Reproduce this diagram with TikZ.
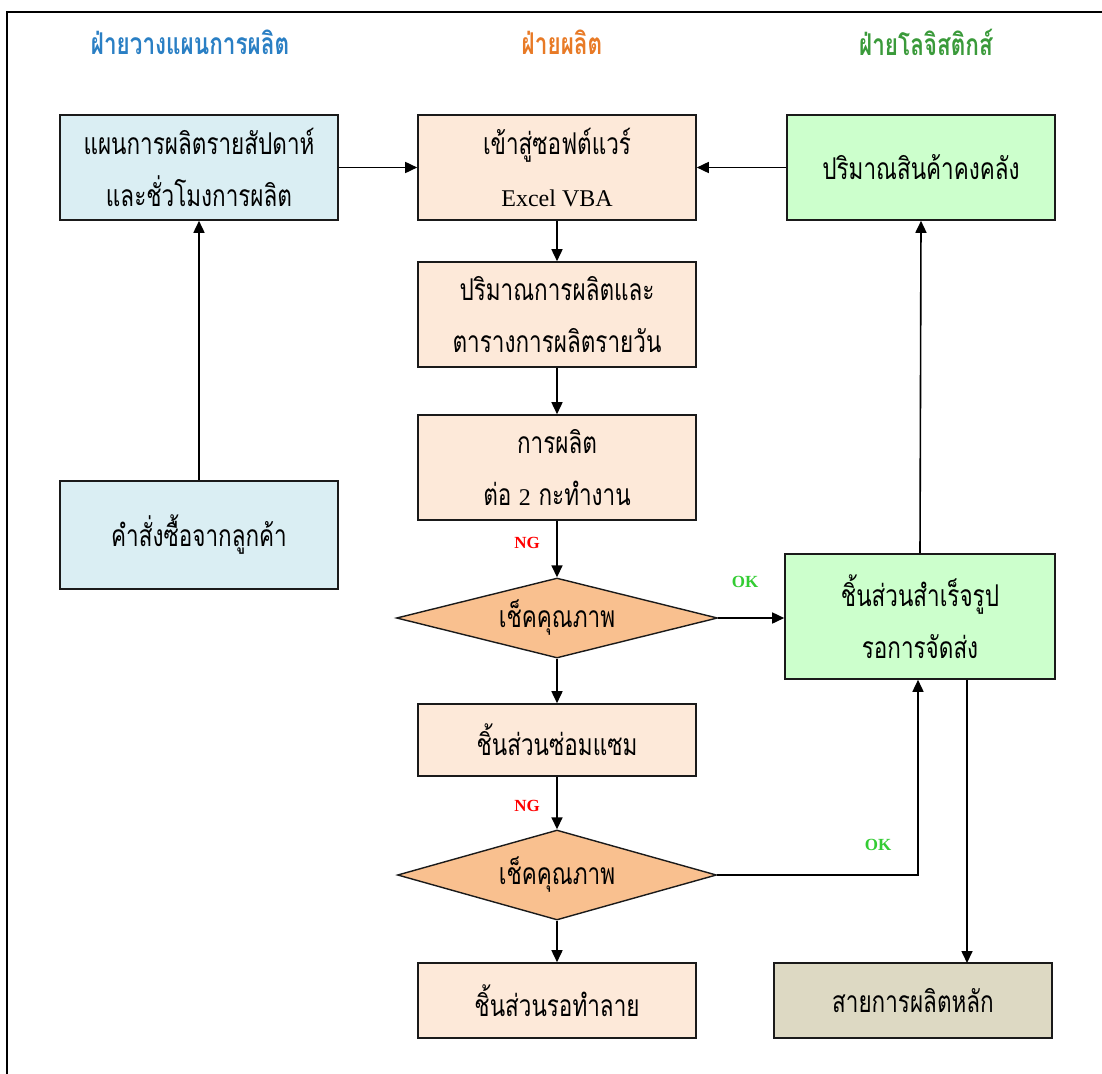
\documentclass[tikz,border=0pt]{standalone}
\usepackage{fontspec}
\usetikzlibrary{shapes.geometric,arrows.meta}
\newfontfamily\thai[Script=Thai,FakeStretch=0.75]{Loma}
\newfontfamily\lserif{Liberation Serif}
\definecolor{hdblue}{HTML}{2A7FC4}
\definecolor{hdorange}{HTML}{E87A26}
\definecolor{hdgreen}{HTML}{3A9A3A}
\definecolor{fblue}{HTML}{DAEEF3}
\definecolor{fpeach}{HTML}{FDE9D9}
\definecolor{fgreen}{HTML}{CCFFCC}
\definecolor{ftan}{HTML}{F9C08F}
\definecolor{fkhaki}{HTML}{DDD9C3}
\definecolor{okgreen}{HTML}{33CC33}
\definecolor{edge}{HTML}{1A1A1A}
\tikzset{
  box/.style={draw=edge, line width=1.6pt, minimum width=278pt, minimum height=105pt,
    inner sep=0pt, align=center, font=\thai\fontsize{30}{52}\selectfont},
  check/.style={diamond, draw=edge, line width=1.4pt, fill=ftan, inner sep=0pt,
    shape aspect=4, font=\thai\fontsize{30}{36}\selectfont},
  header/.style={font=\thai\bfseries\fontsize{30}{36}\selectfont},
  arr/.style={draw=black, line width=1.6pt, -{Triangle[length=12pt,width=11pt]}},
  ng/.style={text=red, font=\lserif\bfseries\fontsize{17}{20}\selectfont},
  ok/.style={text=okgreen, font=\lserif\bfseries\fontsize{17}{20}\selectfont}
}
\newcommand\latintext[1]{{\lserif\fontsize{24}{52}\selectfont #1}}
\begin{document}
\begin{tikzpicture}[x=1pt,y=-1pt]
\useasboundingbox (0,0) rectangle (1102,1073);
% outer frame
\draw[line width=2pt] (7,1080) -- (7,12) -- (1110,12);

% department headings
\node[header, text=hdblue]   (h1) at (190,42) {ฝ่ายวางแผนการผลิต};
\node[header, text=hdorange] (h2) at (562,42) {ฝ่ายผลิต};
\node[header, text=hdgreen]  (h3) at (926,42) {ฝ่ายโลจิสติกส์};

% planning column
\node[box, fill=fblue] (plan) at (199,167.5) {แผนการผลิตรายสัปดาห์\\และชั่วโมงการผลิต};
\node[box, fill=fblue, minimum height=108pt] (order) at (199,535) {คำสั่งซื้อจากลูกค้า};

% production column
\node[box, fill=fpeach] (soft) at (557,167.5) {เข้าสู่ซอฟต์แวร์\\\latintext{Excel VBA}};
\node[box, fill=fpeach] (daily) at (557,314.5) {ปริมาณการผลิตและ\\ตารางการผลิตรายวัน};
\node[box, fill=fpeach] (prod) at (557,467.5) {การผลิต\\ต่อ \latintext{2} กะทำงาน};
\node[check, minimum width=321pt, minimum height=80pt] (qc1) at (557,618) {เช็คคุณภาพ};
\node[box, fill=fpeach, minimum height=72pt] (repair) at (557,740) {ชิ้นส่วนซ่อมแซม};
\node[check, minimum width=319pt, minimum height=90pt] (qc2) at (557,875) {เช็คคุณภาพ};
\node[box, fill=fpeach, minimum height=75pt] (scrap) at (557,1000.5) {ชิ้นส่วนรอทำลาย};

% logistics column
\node[box, fill=fgreen, minimum width=268pt] (stock) at (921,167.5) {ปริมาณสินค้าคงคลัง};
\node[box, fill=fgreen, minimum width=270pt, minimum height=125pt] (done) at (920,616.5) {ชิ้นส่วนสำเร็จรูป\\รอการจัดส่ง};
\node[box, fill=fkhaki, minimum height=75pt] (line) at (913,1000.5) {สายการผลิตหลัก};
\coordinate (lineIn) at (967,963);

% connectors
\draw[arr] (order.north) -- (plan.south);
\draw[arr] (plan.east) -- (soft.west);
\draw[arr] (stock.west) -- (soft.east);
\draw[arr] (soft.south) -- (daily.north);
\draw[arr] (daily.south) -- (prod.north);
\draw[arr] (prod.south) -- (qc1.north);
\draw[arr] (qc1.east) -- (qc1.east -| done.west);
\draw[arr] (qc1.south) -- (repair.north);
\draw[arr] (repair.south) -- (qc2.north);
\draw[arr] (qc2.south) -- (scrap.north);
\draw[arr] (qc2.east) -| ([xshift=-2pt]done.south);
\draw[arr] (done.north) -- (stock.south);
\draw[arr] (done.south -| lineIn) -- (lineIn);

% branch labels
\node[ng] (ng1) at (527,543) {NG};
\node[ok] (ok1) at (745,582) {OK};
\node[ng] (ng2) at (527,806) {NG};
\node[ok] (ok2) at (878,845) {OK};
\end{tikzpicture}
\end{document}
